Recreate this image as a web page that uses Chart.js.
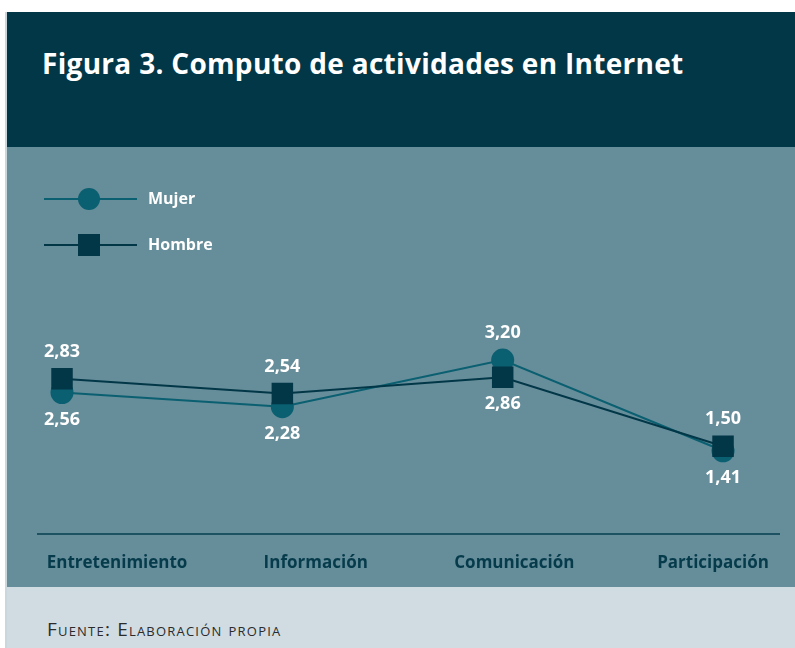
<!DOCTYPE html>
<html lang="es">
<head>
    <meta charset="UTF-8">
    <script src="https://cdn.jsdelivr.net/npm/chart.js"></script>
    <title>Figura 3. Computo de actividades en Internet</title>
    <style>
        body {
            margin: 0;
            padding: 0;
            background-color: #ffffff;
            font-family: 'Open Sans', 'Lato', sans-serif;
        }

        .frame {
            position: absolute;
            left: 5px;
            top: 12px;
            width: 788px;
            height: 636px;
            border-left: 2px solid #cad7dd;
        }

        header {
            position: relative;
            height: 135px;
            background-color: #023748;
        }

        h1 {
            position: absolute;
            left: 35px;
            top: 35px;
            margin: 0;
            font-size: 28px;
            letter-spacing: 0.3px;
            line-height: 1.2;
            font-weight: 700;
            color: #ffffff;
            white-space: nowrap;
        }

        .panel {
            position: relative;
            height: 440px;
            background-color: #668d9a;
        }

        .panel canvas {
            position: absolute;
            left: 0;
            top: 0;
        }

        footer {
            position: relative;
            height: 61px;
            background-color: #d0dce2;
        }

        footer p {
            position: absolute;
            left: 40px;
            top: 31px;
            margin: 0;
            font-size: 19px;
            letter-spacing: 1.2px;
            line-height: 1.2;
            font-variant: small-caps;
            color: #2b2b2b;
        }
    </style>
</head>
<body>

    <div class="frame">
        <header>
            <h1>Figura 3. Computo de actividades en Internet</h1>
        </header>
        <div class="panel">
            <canvas id="myChart" width="788" height="445"></canvas>
        </div>
        <footer>
            <p>Fuente: Elaboración propia</p>
        </footer>
    </div>

    <script>
        const categories = ['Entretenimiento', 'Información', 'Comunicación', 'Participación'];
        const mujer = [2.56, 2.28, 3.20, 1.41];
        const hombre = [2.83, 2.54, 2.86, 1.50];
        const seriesNames = ['Mujer', 'Hombre'];

        const colMujer = '#0a5f70';
        const colHombre = '#023748';

        // value labels: the higher of the two goes above the marker, the other below
        const valueLabels = {
            id: 'valueLabels',
            afterDatasetsDraw(chart) {
                const ctx = chart.ctx;
                ctx.save();
                ctx.font = 'bold 18px "Open Sans", sans-serif';
                ctx.fillStyle = '#ffffff';
                ctx.textAlign = 'center';
                ctx.textBaseline = 'middle';
                chart.data.datasets.forEach((ds, i) => {
                    const meta = chart.getDatasetMeta(i);
                    meta.data.forEach((pt, j) => {
                        const v = ds.data[j].y;
                        const top = chart.data.datasets.every(o => o.data[j].y <= v);
                        const txt = v.toFixed(2).replace('.', ',');
                        ctx.fillText(txt, pt.x, top ? pt.y - 27 : pt.y + 27);
                    });
                });
                ctx.restore();
            }
        };

        // legend with line + marker, like the printed figure
        const lineLegend = {
            id: 'lineLegend',
            afterDraw(chart) {
                const ctx = chart.ctx;
                const rows = [
                    { name: seriesNames[0], color: colMujer, shape: 'circle', y: 52 },
                    { name: seriesNames[1], color: colHombre, shape: 'rect', y: 98 }
                ];
                ctx.save();
                rows.forEach(r => {
                    ctx.strokeStyle = r.color;
                    ctx.lineWidth = 2;
                    ctx.beginPath();
                    ctx.moveTo(37, r.y);
                    ctx.lineTo(130, r.y);
                    ctx.stroke();
                    ctx.fillStyle = r.color;
                    if (r.shape === 'circle') {
                        ctx.beginPath();
                        ctx.arc(82, r.y, 11, 0, Math.PI * 2);
                        ctx.fill();
                    } else {
                        ctx.fillRect(71, r.y - 11, 22, 22);
                    }
                    ctx.font = 'bold 16px "Open Sans", sans-serif';
                    ctx.fillStyle = '#ffffff';
                    ctx.textAlign = 'left';
                    ctx.textBaseline = 'middle';
                    ctx.fillText(r.name, 141, r.y);
                });
                ctx.restore();
            }
        };

        const toPoints = arr => arr.map((v, i) => ({ x: i, y: v }));

        const chartConfig = {
            type: 'line',
            data: {
                datasets: [{
                    label: seriesNames[1],
                    data: toPoints(hombre),
                    borderColor: colHombre,
                    backgroundColor: colHombre,
                    borderWidth: 2,
                    pointStyle: 'rect',
                    pointRadius: 15.2,
                    pointBorderWidth: 0,
                    xAxisID: 'x',
                    yAxisID: 'y'
                }, {
                    label: seriesNames[0],
                    data: toPoints(mujer),
                    borderColor: colMujer,
                    backgroundColor: colMujer,
                    borderWidth: 2,
                    pointStyle: 'circle',
                    pointRadius: 11.5,
                    pointBorderWidth: 0,
                    xAxisID: 'x',
                    yAxisID: 'y'
                }]
            },
            options: {
                responsive: false,
                animation: false,
                events: [],
                layout: {
                    padding: { left: 31, right: 16, top: 132, bottom: 0 }
                },
                plugins: {
                    legend: { display: false },
                    tooltip: { enabled: false }
                },
                scales: {
                    x: {
                        type: 'linear',
                        display: false,
                        min: -0.109,
                        max: 3.254
                    },
                    xl: {
                        type: 'linear',
                        position: 'bottom',
                        min: -0.398,
                        max: 3.332,
                        afterBuildTicks: axis => {
                            axis.ticks = categories.map((c, i) => ({ value: i }));
                        },
                        grid: { display: false, drawTicks: false },
                        border: { display: true, color: '#1d5262', width: 2 },
                        ticks: {
                            padding: 19,
                            autoSkip: false,
                            maxRotation: 0,
                            color: '#053b4b',
                            font: { family: 'Open Sans', size: 17, weight: 'bold' },
                            callback: v => categories[v]
                        }
                    },
                    y: {
                        type: 'linear',
                        display: false,
                        min: -0.225,
                        max: 4.8
                    }
                }
            },
            plugins: [valueLabels, lineLegend]
        };

        var myChart = new Chart(document.getElementById('myChart'), chartConfig);
    </script>

</body>
</html>
